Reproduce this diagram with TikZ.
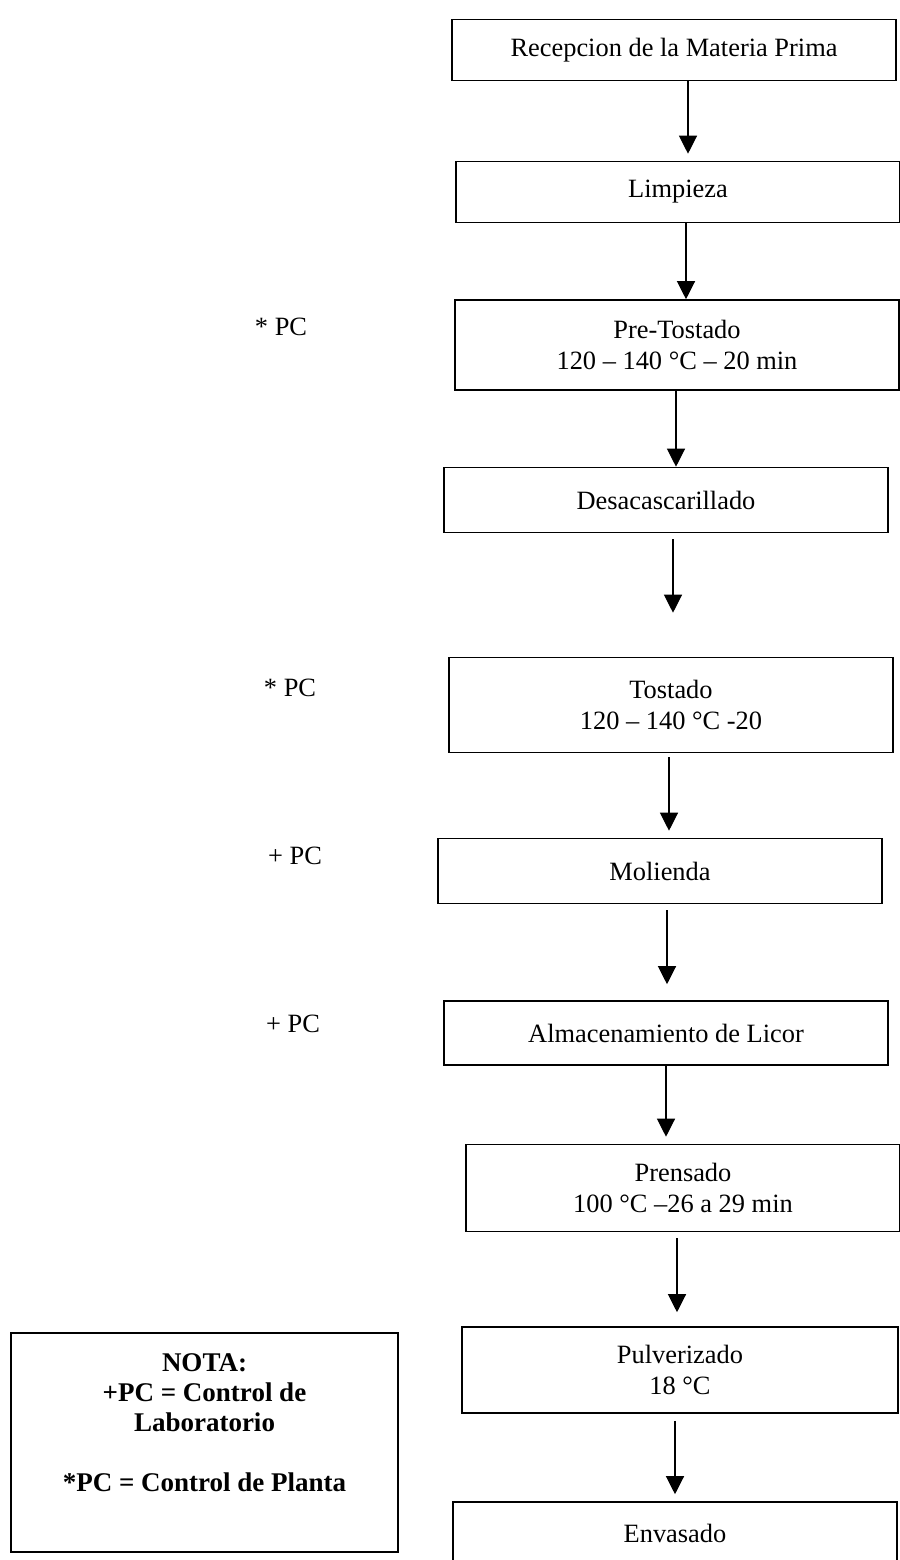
\documentclass[tikz,border=0pt]{standalone}
\usepackage{fontspec}
\setmainfont{Liberation Serif}
\usetikzlibrary{arrows.meta,positioning}

\begin{document}
\begin{tikzpicture}[x=0.5pt,y=-0.5pt,
  paso/.style={draw,line width=0.8pt,minimum width=222pt,inner sep=0pt,align=center,font=\fontsize{13.2}{15.5}\selectfont},
  flecha/.style={line width=0.6pt,-{Triangle[width=9pt,length=9pt]}},
  pc/.style={font=\fontsize{13.2}{15.5}\selectfont}]
\useasboundingbox (0,0) rectangle (900,1560);
%\draw[help lines] (0,0) grid[step=100] (900,1560);
\node[paso,minimum height=30.5pt] (recep) at (674,50) {Recepcion de la Materia Prima};
\node[paso,minimum height=30.5pt] (limp) at (678,192) {Limpieza};
\node[paso,minimum height=45pt] (pretost) at (677,345) {Pre-Tostado\\120 – 140 °C – 20 min};
\node[paso,minimum height=32.5pt] (desc) at (666,500) {Desacascarillado};
\node[paso,minimum height=47.5pt] (tost) at (671,705) {Tostado\\120 – 140 °C -20};
\node[paso,minimum height=32.5pt] (mol) at (660,871) {Molienda};
\node[paso,minimum height=32pt] (alm) at (666,1033) {Almacenamiento de Licor};
\node[paso,minimum width=217pt,minimum height=43.5pt] (prens) at (683,1188) {Prensado\\100 °C –26 a 29 min};
\node[paso,minimum width=218pt,minimum height=43pt] (pulv) at (680,1370) {Pulverizado\\18 °C};
\node[paso,minimum height=31pt] (envas) at (675,1533) {Envasado};
\draw[flecha,shorten >=3.5pt] ([xshift=7pt]recep.south) -- ([xshift=5pt]limp.north);
\draw[flecha] ([xshift=4pt]limp.south) -- ([xshift=4.5pt]pretost.north);
\draw[flecha] ([xshift=-0.5pt]pretost.south) -- ([xshift=5pt]desc.north);
\draw[flecha,shorten <=3pt,shorten >=22pt] ([xshift=3.5pt]desc.south) -- ([xshift=1pt]tost.north);
\draw[flecha,shorten <=2pt,shorten >=3.5pt] ([xshift=-1pt]tost.south) -- ([xshift=4.5pt]mol.north);
\draw[flecha,shorten <=3pt,shorten >=8pt] ([xshift=3.5pt]mol.south) -- ([xshift=0.5pt]alm.north);
\draw[flecha,shorten >=3.5pt] (alm.south) -- ([xshift=-8.5pt]prens.north);
\draw[flecha,shorten <=3pt,shorten >=7pt] ([xshift=-3pt]prens.south) -- ([xshift=-1.5pt]pulv.north);
\draw[flecha,shorten <=3.5pt,shorten >=3.5pt] ([xshift=-2.5pt]pulv.south) -- (envas.north);
% puntos de control
\node[pc] (pc1) at (281,327) {* PC};
\node[pc] (pc2) at (290,688) {* PC};
\node[pc] (pc3) at (295,856) {+ PC};
\node[pc] (pc4) at (293,1024) {+ PC};
% nota
\node[draw,line width=0.8pt,minimum width=193.5pt,minimum height=109.5pt] (nota) at (204.5,1442.5) {};
\node[below=10.5pt of nota.north,align=center,inner sep=0pt,font=\bfseries\fontsize{13.5}{15}\selectfont] (notatxt) {NOTA:\\+PC = Control de\\Laboratorio\\[15pt]*PC = Control de Planta};
\end{tikzpicture}
\end{document}
